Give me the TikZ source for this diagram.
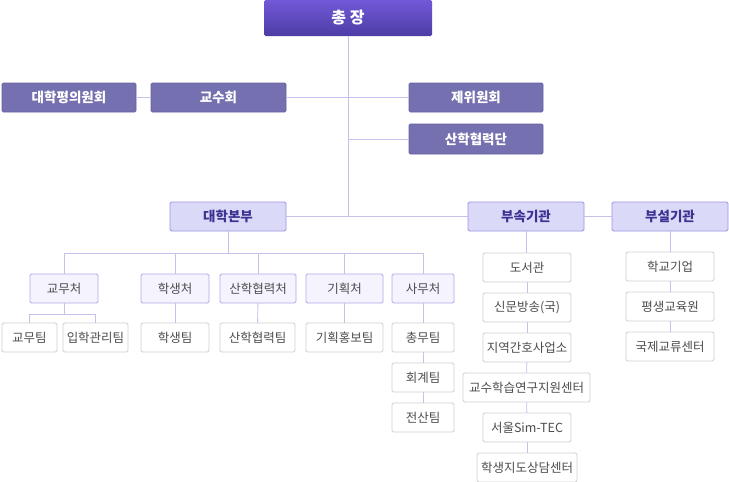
\documentclass[tikz,border=0pt]{standalone}
\usepackage{fontspec}
\setmainfont{Noto Sans CJK KR}
\usetikzlibrary{calc}
\definecolor{linkc}{HTML}{C6C1EC}
\definecolor{chieftop}{HTML}{7358D8}
\definecolor{chiefbot}{HTML}{4C3DA6}
\definecolor{cnfill}{HTML}{7570AF}
\definecolor{cnline}{HTML}{6660A2}
\definecolor{hqfill}{HTML}{DBD9F8}
\definecolor{hqline}{HTML}{9C93E3}
\definecolor{hqtext}{HTML}{3B3291}
\definecolor{dpfill}{HTML}{F4F3FE}
\definecolor{dpline}{HTML}{B0A9EC}
\definecolor{tmline}{HTML}{CFCFCF}
\definecolor{tmtext}{HTML}{4D4D4D}
\tikzset{
  box/.style={rounded corners=1.5pt,inner sep=0pt,minimum height=29pt,line width=0.9pt},
  chief/.style={box,draw=none,top color=chieftop,bottom color=chiefbot,text=white,
    font=\bfseries\fontsize{16}{18}\selectfont,minimum width=168pt,minimum height=36pt},
  council/.style={box,draw=cnline,fill=cnfill,text=white,font=\bfseries\fontsize{13.5}{15}\selectfont,minimum width=134pt},
  hq/.style={box,draw=hqline,fill=hqfill,text=hqtext,font=\bfseries\fontsize{13.5}{15}\selectfont,minimum width=116pt},
  dept/.style={box,draw=dpline,fill=dpfill,text=tmtext,font=\fontsize{12.5}{14}\selectfont},
  team/.style={box,draw=tmline,fill=white,text=tmtext,font=\fontsize{12.5}{14}\selectfont,minimum width=88pt},
  link/.style={draw=linkc,line width=0.9pt}
}
\begin{document}
\begin{tikzpicture}[x=1pt,y=-1pt]
\useasboundingbox[fill=white] (0,0) rectangle (729,482);
% top
\node[chief] (pres) at (348,18) {총 장};
\node[council] (senate)   at (69,97.5)   {대학평의원회};
\node[council,minimum width=135pt] (faculty) at (218.5,97.5) {교수회};
\node[council] (board)    at (476,97.5)  {제위원회};
\node[council,minimum height=30pt] (foundation) at (476,139) {산학협력단};
\node[hq] (univ)  at (228,216.5) {대학본부};
\node[hq] (affil) at (526,216.5) {부속기관};
\node[hq] (annex) at (670,216.5) {부설기관};
\coordinate (trunk) at (348,216.5);
% departments
\node[dept,minimum width=68pt] (acad)  at (64,288.5)    {교무처};
\node[dept,minimum width=68pt] (stud)  at (175,288.5)   {학생처};
\node[dept,minimum width=76pt] (coop)  at (258,288.5)   {산학협력처};
\node[dept,minimum width=77pt] (plan)  at (344.5,288.5) {기획처};
\node[dept,minimum width=62pt] (admin) at (423,288.5)   {사무처};
% teams
\node[team,minimum width=55pt] (acadteam) at (29.5,337.5) {교무팀};
\node[team,minimum width=65pt] (entteam)  at (95.5,337.5) {입학관리팀};
\node[team,minimum width=68pt] (studteam) at (175,337.5)  {학생팀};
\node[team,minimum width=75pt] (coopteam) at (257.5,337.5) {산학협력팀};
\node[team,minimum width=77pt] (planteam) at (344.5,337.5) {기획홍보팀};
\node[team,minimum width=62pt] (genteam)  at (423,337.5)  {총무팀};
\node[team,minimum width=62pt] (accteam)  at (423,377.5)  {회계팀};
\node[team,minimum width=62pt] (itteam)   at (423,417.5)  {전산팀};
% attached
\node[team] (lib)   at (527,267.5) {도서관};
\node[team] (press) at (527,307.5) {신문방송(국)};
\node[team] (nurse) at (527,347.5) {지역간호사업소};
\node[team,minimum width=127pt] (teach) at (526.5,387.5) {교수학습연구지원센터};
\node[team] (sim)   at (527,427.5) {서울Sim-TEC};
\node[team,minimum width=100pt] (counsel) at (527,467.5) {학생지도상담센터};
\node[team] (firm)  at (670,266.5) {학교기업};
\node[team] (life)  at (670,306.5) {평생교육원};
\node[team] (intl)  at (670,346.5) {국제교류센터};
% links
\path[link] (pres) edge (trunk)
  (senate) edge (faculty)
  (faculty) edge (board)
  (foundation.west) edge (foundation.west -| trunk)
  (univ) edge (affil)
  (affil) edge (annex);
\draw[link] (univ.south) -- ++(0,22) coordinate (bus);
\draw[link] (acad.north) |- (bus) -| (admin.north);
\foreach \d in {stud,coop,plan}
  \draw[link] (\d.north) -- (\d.north |- bus);
\draw[link] (acad.south) -- ++(0,11) coordinate (acadbus);
\draw[link] (acadteam.north) |- (acadbus) -| (entteam.north);
\foreach \a/\b in {stud/studteam,coop/coopteam,plan/planteam,admin/genteam,genteam/accteam,accteam/itteam,
    lib/press,press/nurse,nurse/teach,teach/sim,sim/counsel,firm/life,life/intl}
  \draw[link] (\a) -- (\b);
\draw[link] (affil.south) -- (lib.north -| affil.south);
\draw[link] (annex) -- (firm);
\end{tikzpicture}
\end{document}
